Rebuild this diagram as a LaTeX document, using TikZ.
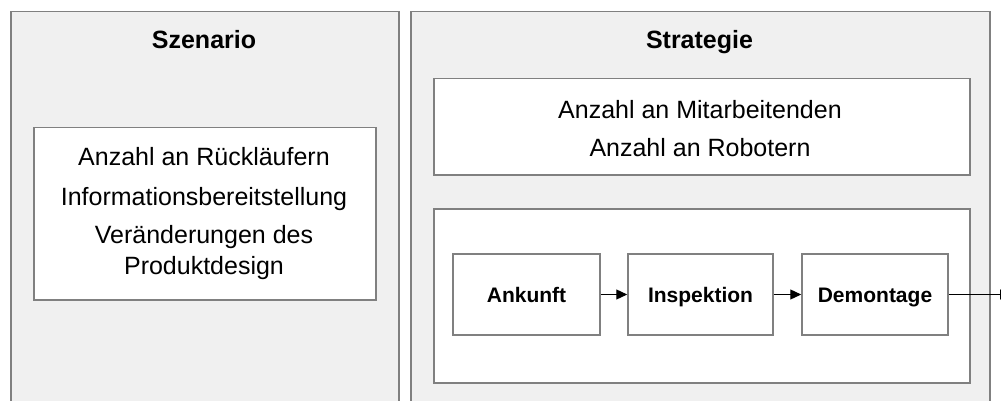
\documentclass[tikz,border=0pt]{standalone}
\usepackage{fontspec}
\setmainfont{Liberation Sans}
\usetikzlibrary{arrows.meta}
\definecolor{panelfill}{HTML}{F0F0F0}
\definecolor{edgegray}{HTML}{808080}
\begin{document}
\begin{tikzpicture}[x=1pt,y=-1pt,
  panel/.style={draw=edgegray,line width=1.5pt,fill=panelfill,inner sep=0pt,anchor=north west},
  card/.style={draw=edgegray,line width=1.5pt,fill=white,inner sep=0pt,anchor=north west},
  title/.style={font=\fontsize{25}{30}\selectfont\bfseries,anchor=base,inner sep=0pt},
  body/.style={font=\fontsize{25}{30}\selectfont,anchor=base,inner sep=0pt},
  stage/.style={draw=edgegray,line width=1.5pt,fill=white,inner sep=0pt,
    font=\fontsize{21}{25}\selectfont\bfseries,text height=15pt,text depth=0pt,
    minimum height=81pt},
  flow/.style={-{Triangle[length=11pt,width=10pt]},line width=1.2pt,black}]
\useasboundingbox (0,0) rectangle (1001,401);
\clip (0,0) rectangle (1001,401);

% two panels
\node[panel,minimum width=388pt,minimum height=420pt] (scenario) at (10,11) {};
\node[panel,minimum width=579pt,minimum height=420pt] (strategy) at (410,11) {};
\node[title] (scenariotitle) at (204,49) {Szenario};
\node[title] (strategytitle) at (699.5,49) {Strategie};

% scenario parameters
\node[card,minimum width=342pt,minimum height=172pt] (params) at (33,127) {};
\node[body] (p1) at (204,165.7) {Anzahl an Rückläufern};
\node[body] (p2) at (204,205) {Informationsbereitstellung};
\node[body] (p3) at (204,243.3) {Veränderungen des};
\node[body] (p4) at (204,274.3) {Produktdesign};

% resources
\node[card,minimum width=536pt,minimum height=96pt] (resources) at (433,78) {};
\node[body] (r1) at (700,118.3) {Anzahl an Mitarbeitenden};
\node[body] (r2) at (700,156.7) {Anzahl an Robotern};

% process chain
\node[card,minimum width=536pt,minimum height=174pt] (process) at (433,208) {};
\node[stage,minimum width=147pt] (ankunft) at (526.5,294.5) {Ankunft};
\node[stage,minimum width=145pt] (inspektion) at (700.5,294.5) {Inspektion};
\node[stage,minimum width=146pt] (demontage) at (875,294.5) {Demontage};
\coordinate (exit) at (1011,294.5);

\draw[flow] (ankunft) -- (inspektion);
\draw[flow] (inspektion) -- (demontage);
\draw[flow] (demontage) -- (exit);
\end{tikzpicture}
\end{document}
